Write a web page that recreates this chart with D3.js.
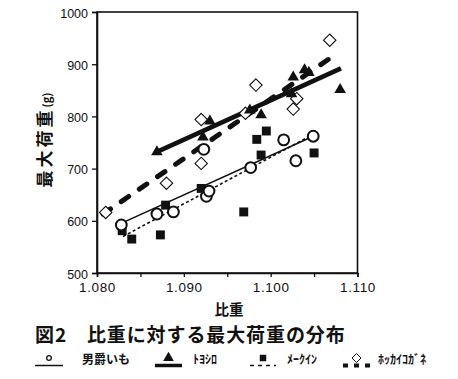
<!DOCTYPE html>
<html><head><meta charset="utf-8">
<script src="https://cdn.jsdelivr.net/npm/d3@7"></script>
<style>
html,body{margin:0;padding:0;background:#fff;}
svg{display:block;}
</style></head>
<body>
<script>
// ---- data ----
const xTicks = [1.080, 1.090, 1.100, 1.110];
const xTickLabels = ["1.080", "1.090", "1.100", "1.110"];
const yTicks = [500, 600, 700, 800, 900, 1000];
const seriesNames = ["男爵いも", "ﾄﾖｼﾛ", "ﾒｰｸｲﾝ", "ﾎｯｶｲｺｶﾞﾈ"];

const danshakuX = [1.0828, 1.0869, 1.0888, 1.0926, 1.0929, 1.0923, 1.0977, 1.1015, 1.1029, 1.1049];
const danshakuY = [592, 613, 617, 647, 657, 737, 702, 755, 715, 762];

const toyoshiroX = [1.0869, 1.0922, 1.0930, 1.0976, 1.0989, 1.1024, 1.1026, 1.1039, 1.1044, 1.1080];
const toyoshiroY = [732, 760, 791, 812, 803, 843, 875, 889, 884, 851];

const mayqueenX = [1.0829, 1.0840, 1.0873, 1.0879, 1.0920, 1.0969, 1.0984, 1.0995, 1.0989, 1.1050];
const mayqueenY = [581, 565, 573, 630, 662, 617, 756, 772, 726, 730];

const hokkaiX = [1.0810, 1.0880, 1.0920, 1.0920, 1.0971, 1.0983, 1.1030, 1.1026, 1.1068];
const hokkaiY = [616, 672, 710, 794, 806, 860, 834, 814, 946];

// fitted trend lines (end points)
const danshakuFitX = [1.0829, 1.1049];
const danshakuFitY = [596, 762];
const toyoshiroFitX = [1.0869, 1.1081];
const toyoshiroFitY = [732, 892];
const mayqueenFitX = [1.0830, 1.1045];
const mayqueenFitY = [570, 762];
const hokkaiFitX = [1.0807, 1.1068];
const hokkaiFitY = [613, 911];

const axisTitleX = "比重";
const axisTitleY = "最大荷重";
const axisUnitY = "(g)";
const figTitle = "図2　比重に対する最大荷重の分布";

// ---- drawing ----
const W = 458, H = 379;
const svg = d3.select("body").append("svg").attr("width", W).attr("height", H);
const ink = "#111";
const numFont = "'Liberation Sans', Arial, sans-serif";
const jpFont = "'Noto Sans CJK JP', sans-serif";

const x = d3.scaleLinear().domain([1.080, 1.110]).range([97, 357.5]);
const y = d3.scaleLinear().domain([500, 1000]).range([273, 12]);

// frame
svg.append("rect").attr("x", x(1.080)).attr("y", y(1000))
  .attr("width", x(1.110) - x(1.080)).attr("height", y(500) - y(1000))
  .attr("fill", "none").attr("stroke", ink).attr("stroke-width", 1.6);

// axes
const xAxis = d3.axisBottom(x).tickValues(d3.range(1.080, 1.1101, 0.005)).tickSize(4)
  .tickFormat(d => { const i = xTicks.findIndex(t => Math.abs(t - d) < 1e-9); return i >= 0 ? xTickLabels[i] : ""; });
const gx = svg.append("g").attr("transform", `translate(0,${y(500)})`).call(xAxis);
gx.select(".domain").attr("stroke", ink).attr("stroke-width", 1.6);
gx.selectAll(".tick line").attr("stroke", ink).attr("stroke-width", 1.3);
gx.selectAll(".tick text").attr("font-family", numFont).attr("font-size", 13.5)
  .attr("fill", ink).attr("dy", "0.9em").attr("letter-spacing", 0.6);

const yAxis = d3.axisLeft(y).tickValues(yTicks).tickSize(5).tickPadding(4).tickFormat(d3.format("d"));
const gy = svg.append("g").attr("transform", `translate(${x(1.080)},0)`).call(yAxis);
gy.select(".domain").attr("stroke", ink).attr("stroke-width", 1.6);
gy.selectAll(".tick line").attr("stroke", ink).attr("stroke-width", 1.3);
gy.selectAll(".tick text").attr("font-family", numFont).attr("font-size", 12.5).attr("fill", ink)
  .attr("dy", "0.4em");

// axis titles
svg.append("text").attr("x", 229).attr("y", 315).attr("text-anchor", "middle")
  .attr("font-family", jpFont).attr("font-weight", "bold").attr("font-size", 14.5).attr("fill", ink)
  .text(axisTitleX);
const yt = svg.append("text").attr("transform", "translate(51,140) rotate(-90)")
  .attr("text-anchor", "middle").attr("font-family", jpFont).attr("font-weight", "bold")
  .attr("fill", ink);
yt.append("tspan").attr("font-size", 17).attr("letter-spacing", 3).text(axisTitleY);
yt.append("tspan").attr("font-size", 11).text(axisUnitY);

// title
svg.append("text").attr("x", 35).attr("y", 342).attr("font-family", jpFont)
  .attr("font-weight", "bold").attr("font-size", 19).attr("letter-spacing", 0.9).attr("fill", ink)
  .text(figTitle);

// trend lines
const fits = [
  {xs: danshakuFitX, ys: danshakuFitY, w: 1.6, dash: null, cap: "butt"},
  {xs: mayqueenFitX, ys: mayqueenFitY, w: 1.6, dash: "3,2.5", cap: "butt"},
  {xs: toyoshiroFitX, ys: toyoshiroFitY, w: 4.5, dash: null, cap: "butt"},
  {xs: hokkaiFitX, ys: hokkaiFitY, w: 5, dash: "9,13", cap: "round"},
];
const line = d3.line().x(d => x(d[0])).y(d => y(d[1]));
fits.forEach(f => {
  svg.append("path").datum(d3.zip(f.xs, f.ys)).attr("d", line)
    .attr("fill", "none").attr("stroke", ink).attr("stroke-width", f.w)
    .attr("stroke-dasharray", f.dash).attr("stroke-linecap", f.cap);
});

// marker shapes
const triPath = d3.symbol().type(d3.symbolTriangle).size(58)();
const sqPath = d3.symbol().type(d3.symbolSquare).size(80)();
const diaPath = "M0,-6.2L6.2,0L0,6.2L-6.2,0Z";

function drawPts(xs, ys, fn) {
  const g = svg.append("g");
  d3.zip(xs, ys).forEach(p => fn(g, x(p[0]), y(p[1])));
}
drawPts(hokkaiX, hokkaiY, (g, px, py) => g.append("path").attr("d", diaPath)
  .attr("transform", `translate(${px},${py})`).attr("fill", "#fff").attr("stroke", ink).attr("stroke-width", 1.1));
drawPts(mayqueenX, mayqueenY, (g, px, py) => g.append("path").attr("d", sqPath)
  .attr("transform", `translate(${px},${py})`).attr("fill", ink));
drawPts(toyoshiroX, toyoshiroY, (g, px, py) => g.append("path").attr("d", triPath)
  .attr("transform", `translate(${px},${py})`).attr("fill", ink));
drawPts(danshakuX, danshakuY, (g, px, py) => g.append("circle").attr("cx", px).attr("cy", py)
  .attr("r", 5.4).attr("fill", "#fff").attr("stroke", ink).attr("stroke-width", 2));

// legend
const legend = [
  {x0: 35, x1: 63, name: seriesNames[0], tx: 82, lw: 1.5, dash: null, marker: "circle"},
  {x0: 155, x1: 182, name: seriesNames[1], tx: 193, lw: 3.5, dash: null, marker: "tri"},
  {x0: 250, x1: 276, name: seriesNames[2], tx: 287, lw: 1.5, dash: "4,4", marker: "sq"},
  {x0: 343, x1: 370, name: seriesNames[3], tx: 378, lw: 4, dash: "5,6", marker: "dia"},
];
const ly = 365.5;
legend.forEach(l => {
  svg.append("line").attr("x1", l.x0).attr("x2", l.x1).attr("y1", ly).attr("y2", ly)
    .attr("stroke", ink).attr("stroke-width", l.lw).attr("stroke-dasharray", l.dash);
  const cx = (l.x0 + l.x1) / 2;
  if (l.marker === "circle") svg.append("circle").attr("cx", cx).attr("cy", 358).attr("r", 2.3)
    .attr("fill", "#fff").attr("stroke", ink).attr("stroke-width", 1.3);
  if (l.marker === "tri") svg.append("path").attr("d", d3.symbol().type(d3.symbolTriangle).size(50)())
    .attr("transform", `translate(${cx},358)`).attr("fill", ink);
  if (l.marker === "sq") svg.append("path").attr("d", d3.symbol().type(d3.symbolSquare).size(42)())
    .attr("transform", `translate(${cx},358)`).attr("fill", ink);
  if (l.marker === "dia") svg.append("path").attr("d", "M0,-4.5L4.5,0L0,4.5L-4.5,0Z")
    .attr("transform", `translate(${cx},358)`).attr("fill", "#fff").attr("stroke", ink).attr("stroke-width", 1);
  svg.append("text").attr("x", l.tx).attr("y", 364).attr("font-family", jpFont)
    .attr("font-weight", "bold").attr("font-size", 12).attr("fill", ink).text(l.name);
});
</script>
</body></html>
